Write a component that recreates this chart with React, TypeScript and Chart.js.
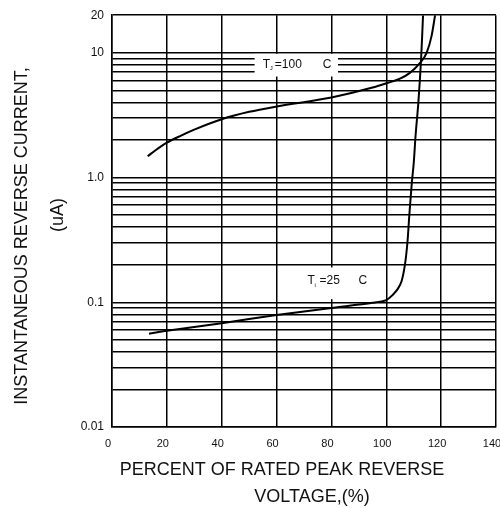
import React, { useEffect, useRef } from "react";
import { Chart, registerables } from "chart.js";

Chart.register(...registerables);

// ---- data ----
const X_TICKS = [0, 20, 40, 60, 80, 100, 120, 140];
const Y_GRID = [
  0.01, 0.02, 0.03, 0.04, 0.05, 0.06, 0.07, 0.08, 0.09,
  0.1, 0.2, 0.3, 0.4, 0.5, 0.6, 0.7, 0.8, 0.9,
  1, 2, 3, 4, 5, 6, 7, 8, 9,
  10, 20,
];
const Y_LABEL_VALUES = [0.01, 0.1, 1, 10, 20];
const Y_LABEL_TEXT = ["0.01", "0.1", "1.0", "10", "20"];

const T100_X = [13, 16, 20, 25, 30, 40, 50, 60, 80, 95, 100, 105, 108.6, 112.3, 114.7, 116.5, 117.8];
const T100_Y = [1.48, 1.66, 1.9, 2.16, 2.42, 2.93, 3.36, 3.71, 4.38, 5.26, 5.69, 6.2, 6.9, 8.3, 10, 13.6, 20];

const T25_X = [13.5, 20, 40, 60, 80, 95, 100, 102.4, 104.2, 105.6, 106.8, 107.7, 108.4, 109.3, 110, 110.7, 111.7, 112.7, 113.4];
const T25_Y = [0.056, 0.059, 0.068, 0.079, 0.09, 0.099, 0.104, 0.115, 0.128, 0.148, 0.2, 0.3, 0.5, 0.9, 1.3, 2.2, 4, 9, 20];

const Y_TITLE = ["INSTANTANEOUS REVERSE CURRENT,", "(uA)"];
const X_TITLE = ["PERCENT OF RATED PEAK REVERSE", "VOLTAGE,(%)"];

const FONT = '"Liberation Sans", Arial, sans-serif';

const annotPlugin = {
  id: "annot",
  beforeDatasetsDraw(chart: any) {
    const ctx = chart.ctx;
    const xs = chart.scales.x;
    const ys = chart.scales.y;
    const box = (x0: number, x1: number, y0: number, y1: number) => {
      const px0 = xs.getPixelForValue(x0);
      const px1 = xs.getPixelForValue(x1);
      const py0 = ys.getPixelForValue(y0);
      const py1 = ys.getPixelForValue(y1);
      ctx.fillStyle = "#fff";
      ctx.fillRect(px0, Math.min(py0, py1), px1 - px0, Math.abs(py1 - py0));
    };
    const label = (xv: number, yv: number, sub: string, temp: string, cOff: number) => {
      const px = xs.getPixelForValue(xv);
      const py = ys.getPixelForValue(yv);
      ctx.fillStyle = "#111";
      ctx.textBaseline = "middle";
      ctx.textAlign = "left";
      ctx.font = `12px ${FONT}`;
      ctx.fillText("T", px, py);
      ctx.font = `6px ${FONT}`;
      ctx.fillText(sub, px + 7, py + 4);
      ctx.font = `12px ${FONT}`;
      ctx.fillText(temp, px + 12, py);
      ctx.fillText("C", px + cOff, py);
    };
    ctx.save();
    box(52, 82.4, 6.45, 9.8);
    box(66.7, 97.7, 0.106, 0.19);
    label(55, 8.0, "J", "=100", 60);
    label(71.3, 0.148, "i", "=25", 51);
    ctx.restore();
  },
  afterDraw(chart: any) {
    const ctx = chart.ctx;
    ctx.save();
    ctx.fillStyle = "#111";
    ctx.font = `18px ${FONT}`;
    ctx.textAlign = "center";
    ctx.textBaseline = "middle";
    // y title
    ctx.save();
    ctx.translate(22, 236);
    ctx.rotate(-Math.PI / 2);
    ctx.fillText(Y_TITLE[0], 0, 0);
    ctx.restore();
    ctx.save();
    ctx.translate(58, 215);
    ctx.rotate(-Math.PI / 2);
    ctx.fillText(Y_TITLE[1], 0, 0);
    ctx.restore();
    // x title
    ctx.fillText(X_TITLE[0], 282, 470);
    ctx.fillText(X_TITLE[1], 312, 497);
    ctx.restore();
  },
};

export default function App() {
  const ref = useRef<HTMLCanvasElement | null>(null);
  useEffect(() => {
    if (!ref.current) return;
    const chart = new Chart(ref.current, {
      type: "line",
      data: {
        datasets: [
          {
            label: "Tj=100",
            data: T100_X.map((x, i) => ({ x, y: T100_Y[i] })),
            borderColor: "#000",
            borderWidth: 2,
            pointRadius: 0,
            cubicInterpolationMode: "monotone",
            fill: false,
          },
          {
            label: "Tj=25",
            data: T25_X.map((x, i) => ({ x, y: T25_Y[i] })),
            borderColor: "#000",
            borderWidth: 2,
            pointRadius: 0,
            tension: 0.3,
            fill: false,
          },
        ],
      },
      options: {
        animation: false,
        responsive: true,
        maintainAspectRatio: false,
        layout: { padding: { left: 0, right: 4, top: 12, bottom: 0 } },
        plugins: {
          legend: { display: false },
          tooltip: { enabled: false },
        },
        scales: {
          x: {
            type: "linear",
            min: 0,
            max: 140,
            afterBuildTicks: (scale: any) => {
              scale.ticks = X_TICKS.map((v) => ({ value: v }));
            },
            afterFit: (scale: any) => {
              scale.height = 81;
              scale.paddingLeft = 0;
              scale.paddingRight = 0;
            },
            grid: { color: "#000", lineWidth: 1.5, drawTicks: false },
            border: { display: true, color: "#000", width: 1.5 },
            ticks: {
              color: "#111",
              font: { family: FONT, size: 11 },
              padding: 10,
              labelOffset: -4,
              maxRotation: 0,
              autoSkip: false,
              callback: (v: any) => String(v),
            },
          },
          y: {
            type: "logarithmic",
            min: 0.01,
            max: 20,
            afterBuildTicks: (scale: any) => {
              scale.ticks = Y_GRID.map((v) => ({ value: v }));
            },
            afterFit: (scale: any) => {
              scale.width = 112;
            },
            grid: { color: "#000", lineWidth: 1.5, drawTicks: false },
            border: { display: true, color: "#000", width: 1.5 },
            ticks: {
              color: "#111",
              font: { family: FONT, size: 12 },
              padding: 8,
              autoSkip: false,
              callback: (v: any) => {
                const i = Y_LABEL_VALUES.findIndex((lv) => Math.abs(lv - Number(v)) < 1e-9);
                return i >= 0 ? Y_LABEL_TEXT[i] : "";
              },
            },
          },
        },
      },
      plugins: [annotPlugin],
    } as any);
    return () => chart.destroy();
  }, []);
  return (
    <div style={{ position: "fixed", left: 0, top: 0, width: 500, height: 508, background: "#fff" }}>
      <canvas ref={ref} />
    </div>
  );
}
